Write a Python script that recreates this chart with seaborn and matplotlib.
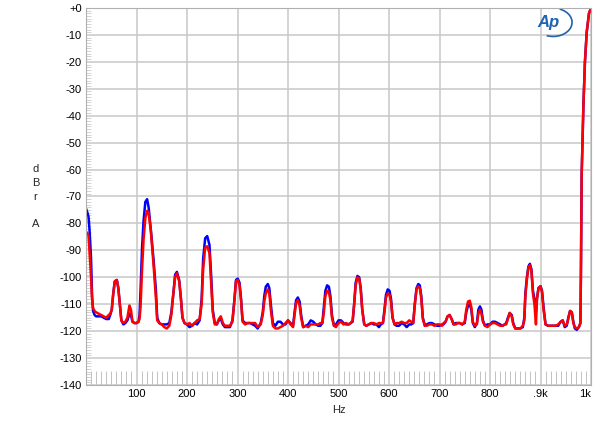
import numpy as np
import pandas as pd
import matplotlib
matplotlib.use("Agg")
import matplotlib.pyplot as plt
from matplotlib.patches import Arc
from matplotlib.ticker import MultipleLocator, FixedLocator
import seaborn as sns

# Frequências (Hz)
freq = [0, 2, 5, 7, 10, 12, 14, 17, 20, 25,
        30, 35, 40, 45, 48, 51, 54, 57, 61, 64,
        67, 70, 74, 78, 82, 86, 89, 92, 96, 100,
        104, 106, 108, 111, 114, 117.5, 121, 124, 128.5, 134,
        138.5, 141, 145, 150, 155, 160, 165, 169, 173, 176.5,
        180, 184.5, 188, 191, 195, 200, 205, 210, 215, 220,
        225, 229, 232, 236, 240, 244.5, 248, 251, 255, 259,
        263, 267, 271, 275, 280, 285, 290, 294, 297, 300.5,
        304, 307, 310, 315, 320, 325, 330, 335, 340, 346,
        350, 353, 356, 360, 363, 366, 370, 375, 380, 385,
        390, 395, 400, 405, 410, 413, 416, 419.5, 423, 426,
        430, 435, 440, 445, 450, 455, 460, 464, 468, 471,
        474, 477.5, 481, 484, 487, 491, 495, 500, 505, 510,
        515, 520, 524, 528, 531, 534, 537.5, 541, 544, 547,
        551, 555, 560, 565, 570, 575, 580, 584, 588, 591,
        594, 597.5, 601, 604, 607, 611, 615, 620, 625, 630,
        635, 640, 644, 648, 651, 654.5, 658, 661, 664, 667,
        671, 675, 680, 685, 690, 695, 700, 705, 708, 712,
        716, 720, 724, 728, 732, 736, 740, 745, 750, 753,
        756.5, 760, 763, 766, 770, 774, 777, 780, 783, 786,
        790, 795, 800, 805, 810, 815, 820, 825, 829, 832,
        835.5, 839, 843, 846, 850, 855, 860, 865, 868, 870,
        873, 876, 879, 882, 885, 888, 891, 893, 896, 900,
        903, 906, 910, 915, 920, 925, 930, 935, 940, 944,
        948, 952, 955, 958.5, 962, 965, 968, 972, 976, 979,
        980, 981.5, 985, 988, 991.5, 996, 1000]

# Canal azul (dBr A)
azul = [-74.5, -75.5, -77.5, -82.5, -93, -107, -112.5, -114, -114.5, -114.5,
        -114.5, -115, -115.5, -115.5, -114, -112, -106, -101.5, -101, -104,
        -110, -116, -117.5, -117, -116, -113.5, -114, -116.5, -117, -117,
        -116.5, -114, -105, -89, -79, -72, -71, -74, -82.5, -94,
        -105, -115, -117, -117.5, -117.5, -117.5, -117, -113, -106, -99,
        -98, -101, -108, -115, -117, -117.5, -118.5, -118, -117, -117.5,
        -116, -108, -93, -85.5, -84.7, -88, -100, -112, -117, -117.5,
        -116, -115.5, -117.5, -118.5, -118.5, -118.5, -116, -108, -101, -100.5,
        -102, -108, -116, -117, -117, -117, -117.5, -118, -119, -117,
        -113, -107, -103.5, -102.5, -104, -110, -117, -118, -116.5, -116.5,
        -117.5, -117.5, -116, -117, -118, -113, -108.5, -107.5, -109, -114,
        -118.5, -118, -117.5, -116, -116.5, -117.5, -118, -118, -117, -111,
        -105, -103, -103.5, -107, -114, -118, -117.5, -116, -116, -117,
        -117.5, -117.5, -117, -116.5, -110, -102, -99.5, -100, -104, -112,
        -117.5, -118, -117.5, -117, -117.5, -117.5, -118.5, -117.5, -117, -112,
        -106.5, -104.5, -105, -108, -115, -117.5, -118, -118, -117, -117.5,
        -118.5, -117.5, -117.5, -117, -110, -104, -102.5, -103, -107, -115,
        -118, -117.5, -117, -117, -117.5, -118, -118, -117.5, -117.5, -116.5,
        -114.5, -114, -115.5, -117.5, -117, -117, -117, -117.5, -117, -113,
        -110.5, -110, -112, -117, -118.5, -117, -112, -110.8, -112, -116,
        -118, -117.5, -117.5, -116.5, -116.5, -117, -117.5, -118, -117.5, -117,
        -115, -113.3, -114, -117, -119, -119, -119, -118.5, -115, -106,
        -100, -96, -95, -97, -105, -108, -113, -108, -104, -103.3,
        -105, -111, -117.5, -118, -118, -118, -118, -118, -116.5, -116,
        -118.5, -118, -115, -112.5, -113, -116.5, -119, -119.5, -118.5, -117,
        -100, -62, -36, -20, -9, -2, 0]

# Canal vermelho (dBr A)
vermelho = [-83, -83.5, -84.5, -90.5, -100, -108, -111.5, -112.5, -113, -113.5,
            -114, -114.5, -115, -114, -113.5, -112, -106, -101.5, -101, -104,
            -110, -116, -117, -116.5, -115, -110.5, -112, -116.5, -117, -117,
            -116.5, -115.5, -111, -97, -86, -78, -75.3, -76, -83, -96,
            -108, -116, -117, -117.5, -118.5, -119, -118, -114, -106, -100,
            -98.5, -101.5, -108, -115, -117, -117.5, -117, -118, -117, -116,
            -115.5, -110, -97, -89, -88.5, -91, -103, -113, -117.5, -117.5,
            -115.5, -114.5, -117, -118, -118, -118, -116.5, -108.5, -101.5, -101,
            -103, -108.5, -116.5, -117.5, -117, -117, -117, -117, -118.5, -117.5,
            -114, -109, -106, -104.5, -106, -112, -118, -119, -119, -118.5,
            -118, -117, -116, -117.5, -118.5, -114, -109.5, -108.5, -110.5, -115,
            -118.5, -118, -118.5, -117.5, -117.5, -117.5, -117.5, -117, -117, -113,
            -107, -105, -105.5, -108.5, -115, -118, -118.5, -117, -116.5, -117.5,
            -117, -117.5, -117, -116, -110, -103, -100, -100.5, -104.5, -112,
            -117.5, -118, -117.5, -117, -117, -117.5, -117, -117, -117, -113,
            -107.5, -106, -106.5, -109, -115, -117.5, -117, -117, -116.5, -117,
            -117, -116, -116.5, -117, -110.5, -104.5, -103.3, -104, -108, -115.5,
            -118, -118, -117.5, -117.5, -118, -117.5, -117.5, -118, -117, -116.5,
            -114.5, -114, -115.5, -117.5, -117.5, -117, -117, -117.5, -116.5, -112,
            -109, -108.7, -111, -116.5, -118, -117.5, -113.5, -112, -113.5, -116.5,
            -118, -118.5, -117.5, -117, -117, -117.5, -118, -118, -117.5, -117.5,
            -115.5, -113.2, -114.5, -117.5, -119, -119, -119, -118, -116, -107,
            -101, -96.5, -95.5, -97.5, -106, -110, -117.5, -108, -104, -103.3,
            -105.5, -112, -117.5, -118, -118, -118, -118, -117.5, -116.5, -116,
            -118, -117.5, -115.5, -112.5, -113, -117, -118.5, -119, -118.5, -117,
            -100, -62, -36, -20, -9, -2, 0]

ticks_x = [100, 200, 300, 400, 500, 600, 700, 800, 900, 1000]
rotulos_x = ["100", "200", "300", "400", "500", "600", "700", "800", ".9k", "1k"]
ticks_y = list(range(0, -150, -10))
rotulos_y = ["+0"] + [str(v) for v in ticks_y[1:]]

df = pd.concat([
    pd.DataFrame({"Hz": freq, "dBr": azul, "canal": "azul"}),
    pd.DataFrame({"Hz": freq, "dBr": vermelho, "canal": "vermelho"}),
])

sns.set_theme(style="white")
plt.rcParams["font.family"] = ["Liberation Sans", "DejaVu Sans"]

fig = plt.figure(figsize=(6, 4.28), dpi=100)
ax = fig.add_axes([86 / 600, 1 - 385 / 428, 505 / 600, 377 / 428])

sns.lineplot(data=df, x="Hz", y="dBr", hue="canal", hue_order=["azul", "vermelho"],
             palette={"azul": "#0000ff", "vermelho": "#ff0000"}, estimator=None,
             sort=False, linewidth=1.8, legend=False, ax=ax)

ax.set_xlim(0, 1000)
ax.set_ylim(-140, 0)

ax.xaxis.set_major_locator(FixedLocator(ticks_x))
ax.set_xticklabels(rotulos_x, fontsize=8)
ax.get_xticklabels()[-1].set_horizontalalignment("right")
ax.yaxis.set_major_locator(FixedLocator(ticks_y))
ax.set_yticklabels(rotulos_y, fontsize=8)
ax.xaxis.set_minor_locator(MultipleLocator(10))
ax.yaxis.set_minor_locator(MultipleLocator(1))

ax.grid(True, which="major", color="#c8c8c8", linewidth=1.1)
ax.tick_params(which="major", length=0, pad=3, colors="black")
ax.tick_params(axis="x", which="minor", direction="in", length=10, width=0.6, color="#b8b8b8", bottom=True)
ax.tick_params(axis="y", which="minor", direction="in", length=3.5, width=0.5, color="#c0c0c0", left=True)

for lado in ax.spines.values():
    lado.set_color("#b0b0b0")
    lado.set_linewidth(0.8)

ax.set_xlabel("Hz", fontsize=8, labelpad=4)
ax.set_ylabel("d\nB\nr\n\nA", fontsize=8, rotation=0, linespacing=1.45, va="center", ha="center")
ax.yaxis.set_label_coords(-0.1, 0.5)

# logo AP
ax.text(0.915, 0.962, "Ap", transform=ax.transAxes, fontsize=12, fontstyle="italic",
        fontweight="bold", color="#1f63b0", ha="center", va="center")
ax.add_patch(Arc((0.925, 0.962), 0.075, 0.075, theta1=-110, theta2=70,
                 transform=ax.transAxes, color="#1f63b0", linewidth=1.2))

fig.savefig("out.png", dpi=100)
